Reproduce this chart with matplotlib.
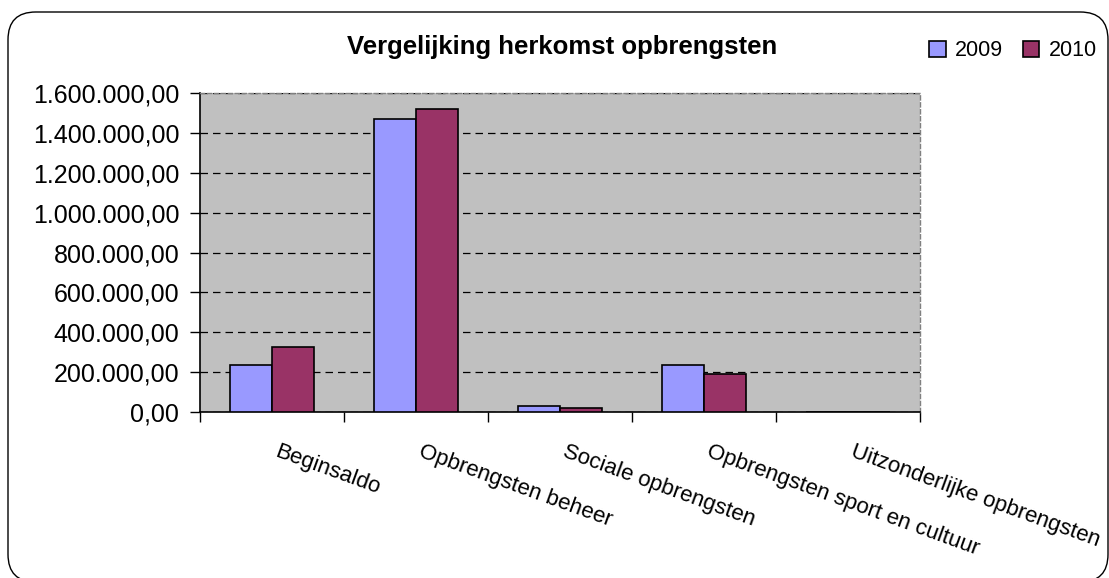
import numpy as np
import matplotlib
matplotlib.use("Agg")
import matplotlib.pyplot as plt
from matplotlib.patches import FancyBboxPatch
from matplotlib.ticker import FuncFormatter, MultipleLocator, FixedLocator

plt.rcParams['font.family'] = ['Liberation Sans', 'DejaVu Sans']

categories = ["Beginsaldo", "Opbrengsten beheer", "Sociale opbrengsten",
              "Opbrengsten sport en cultuur", "Uitzonderlijke opbrengsten"]
years = ["2009", "2010"]
values_2009 = [237000, 1468000, 30000, 237000, 0]
values_2010 = [326000, 1518000, 20000, 190000, 0]

colors = ["#9999FF", "#993366"]

fig = plt.figure(figsize=(11.09, 5.78), dpi=100)

# rounded frame around the chart
frame = FancyBboxPatch((8 / 1109, -4 / 578), 1100 / 1109, 570 / 578,
                       boxstyle="round,pad=0,rounding_size=0.025",
                       mutation_aspect=1109 / 578,
                       transform=fig.transFigure, facecolor="white",
                       edgecolor="black", linewidth=1.0, zorder=-10)
fig.patches.append(frame)

ax = fig.add_axes([200 / 1109, 1 - 412 / 578, 720 / 1109, 319 / 578])
ax.set_facecolor("#C0C0C0")

x = np.arange(len(categories))
w = 0.29
ax.bar(x - w / 2, values_2009, w, color=colors[0], edgecolor="black",
       linewidth=1.2, label=years[0], zorder=3)
ax.bar(x + w / 2, values_2010, w, color=colors[1], edgecolor="black",
       linewidth=1.2, label=years[1], zorder=3)

ax.set_xlim(-0.5, len(categories) - 0.5)
ax.set_ylim(0, 1600000)
ax.yaxis.set_major_locator(MultipleLocator(200000))
ax.yaxis.set_major_formatter(FuncFormatter(
    lambda v, p: f"{v:,.2f}".replace(",", "X").replace(".", ",").replace("X", ".")))
ax.grid(axis="y", color="black", linestyle=(0, (6, 4)), linewidth=0.9, zorder=1)

ax.xaxis.set_major_locator(FixedLocator(np.arange(-0.5, len(categories))))
ax.set_xticklabels([])
ax.tick_params(axis="x", length=7, width=1, direction="out")
ax.tick_params(axis="y", length=7, width=1, direction="out", labelsize=18, pad=8)

for side in ["top", "right"]:
    ax.spines[side].set_color("#808080")
    ax.spines[side].set_linestyle((0, (3, 2)))
    ax.spines[side].set_linewidth(1)
ax.spines["left"].set_linewidth(1.2)
ax.spines["bottom"].set_linewidth(1.2)

for i, lab in enumerate(categories):
    ax.annotate(lab, xy=(i, 0), xycoords=("data", "axes fraction"),
                xytext=(5, -21), textcoords="offset points",
                rotation=-20, rotation_mode="anchor", ha="left", va="top",
                fontsize=16)

fig.text(562 / 1109, 1 - 47 / 578, "Vergelijking herkomst opbrengsten",
         ha="center", va="center", fontsize=18.5, fontweight="bold")

leg = fig.legend(loc="center", bbox_to_anchor=(1013 / 1109, 1 - 51 / 578),
                 ncol=2, frameon=False, fontsize=15.5, handlelength=0.75,
                 handleheight=0.75, handletextpad=0.45, columnspacing=0.9)

fig.savefig("out.png", dpi=100)
